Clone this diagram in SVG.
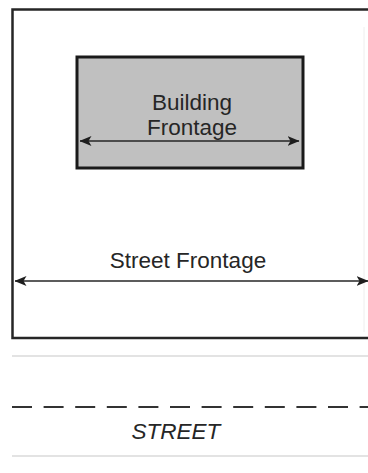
<svg xmlns="http://www.w3.org/2000/svg" width="368" height="473" viewBox="0 0 368 473">
<style>
.t{font-family:"Liberation Sans",Arial,sans-serif;font-size:22.5px;fill:#262626;text-anchor:middle}
.a{stroke:#262626;stroke-width:1.7;fill:none}
.g{stroke:#c8c8c8;stroke-width:1.2}
</style>
<defs>
<marker id="ah" viewBox="0 0 12 10" refX="11.5" refY="5" markerWidth="12" markerHeight="10" markerUnits="userSpaceOnUse" orient="auto-start-reverse">
<path d="M0,0 L12,5 L0,10 L3,5 Z" fill="#1e1e1e"/>
</marker>
</defs>
<rect width="368" height="473" fill="#fff"/>
<g id="lot">
<path d="M375,9.5 H12.5 V338 H375" fill="none" stroke="#262626" stroke-width="2.5"/>
<line x1="364" y1="27" x2="364" y2="332" stroke="#eeeeee" stroke-width="1"/>
</g>
<g id="building">
<rect x="77" y="57" width="226" height="111" fill="#c0c0c0" stroke="#1a1a1a" stroke-width="3"/>
<text class="t" x="192" y="109.5">Building</text>
<text class="t" x="192" y="135">Frontage</text>
</g>
<g id="street-frontage-label">
<text class="t" x="188" y="268">Street Frontage</text>
</g>
<g id="street">
<line class="g" x1="12" y1="356" x2="368" y2="356"/>
<line x1="12" y1="407" x2="368" y2="407" stroke="#333" stroke-width="2" stroke-dasharray="20 11.6"/>
<text class="t" x="176" y="439" font-style="italic">STREET</text>
<line class="g" x1="12" y1="456" x2="368" y2="456"/>
</g>
<g id="connectors">
<line class="a" x1="80" y1="141" x2="299" y2="141" marker-start="url(#ah)" marker-end="url(#ah)"/>
<line class="a" x1="15" y1="281" x2="368" y2="281" marker-start="url(#ah)" marker-end="url(#ah)"/>
</g>
</svg>
